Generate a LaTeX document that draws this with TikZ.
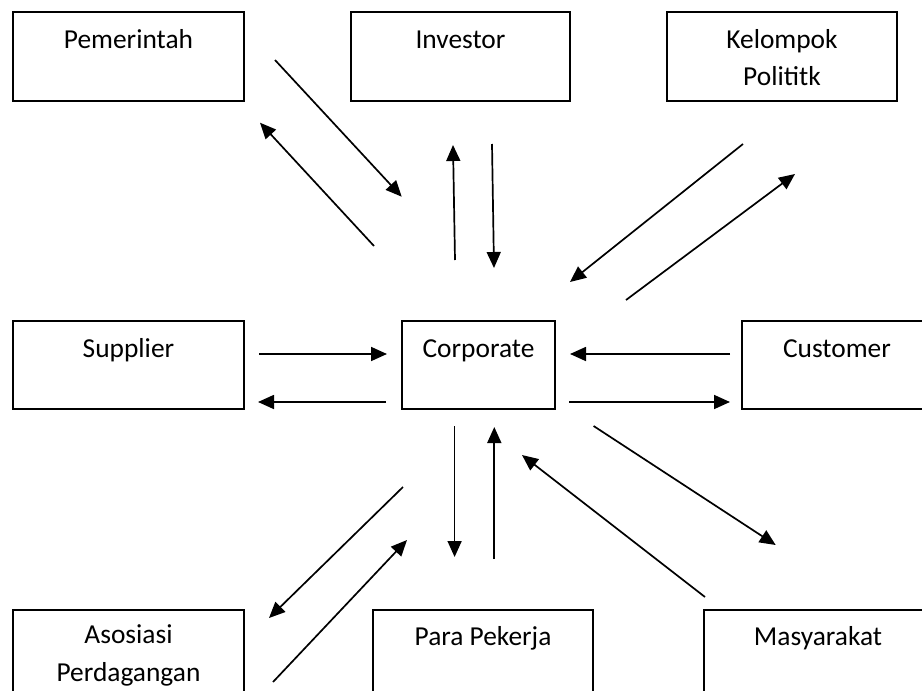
\documentclass[tikz,border=0pt]{standalone}
\usepackage{fontspec}
\setmainfont{Carlito}
\usetikzlibrary{arrows.meta}

\begin{document}
\begin{tikzpicture}[x=0.5pt,y=-0.5pt]


\tikzset{kotak/.style={draw,line width=1pt,inner sep=0pt},}
\tikzset{teks/.style={anchor=base,inner sep=0pt,align=center,font=\fontsize{13.7}{18.7}\selectfont},}
\tikzset{panah/.style={-{Triangle[length=8pt,width=7pt]},line width=0.85pt},}

\useasboundingbox (0,0) rectangle (922,691);

	\draw
		(128.5,56.5) node[kotak,minimum width=115.5pt,minimum height=44.5pt] (pem) {}
		(460.5,56.5) node[kotak,minimum width=109.5pt,minimum height=44.5pt] (inv) {}
		(782,56.5) node[kotak,minimum width=115pt,minimum height=44.5pt] (kel) {}
		
		(128.5,365) node[kotak,minimum width=115.5pt,minimum height=44pt] (sup) {}
		(478.5,365) node[kotak,minimum width=76.5pt,minimum height=44pt] (cor) {}
		(837,365) node[kotak,minimum width=95pt,minimum height=44pt] (cus) {}
		
		(128.5,665) node[kotak,minimum width=115.5pt,minimum height=55pt] (aso) {}
		(483,665) node[kotak,minimum width=110pt,minimum height=55pt] (par) {}
		(818,665) node[kotak,minimum width=114pt,minimum height=55pt] (mas) {}
;

\node[teks] (pemt) at ([yshift=-18.6pt]pem.north) {Pemerintah};
\node[teks] (invt) at ([yshift=-18.6pt]inv.north) {Investor};
\node[teks] (kelt) at ([yshift=-37.3pt]kel.north) {Kelompok\\Polititk};
\node[teks] (supt) at ([yshift=-18.6pt]sup.north) {Supplier};
\node[teks] (cort) at ([yshift=-18.6pt]cor.north) {Corporate};
\node[teks] (cust) at ([yshift=-18.6pt]cus.north) {Customer};
\node[teks] (asot) at ([yshift=-36pt]aso.north) {Asosiasi\\Perdagangan};
\node[teks] (part) at ([yshift=-18.4pt]par.north) {Para Pekerja};
\node[teks] (mast) at ([yshift=-18.4pt]mas.north) {Masyarakat};

% ujung panah
\coordinate (pem-cor-a) at (275,60);    \coordinate (pem-cor-b) at (401.7,196.7);
\coordinate (cor-pem-a) at (374,246);   \coordinate (cor-pem-b) at (260,122.7);
\coordinate (cor-inv-a) at (455,260);   \coordinate (cor-inv-b) at (453,145);
\coordinate (inv-cor-a) at (492,144);   \coordinate (inv-cor-b) at (494,268);
\coordinate (kel-cor-a) at (743,144);   \coordinate (kel-cor-b) at (570,282);
\coordinate (cor-kel-a) at (626,300);   \coordinate (cor-kel-b) at (795,174);
\coordinate (sup-cor-a) at (259,354);   \coordinate (sup-cor-b) at (387,354);
\coordinate (cor-sup-a) at (386,402);   \coordinate (cor-sup-b) at (258,402);
\coordinate (cus-cor-a) at (730,354);   \coordinate (cus-cor-b) at (570,354);
\coordinate (cor-cus-a) at (569,402);   \coordinate (cor-cus-b) at (730,402);
\coordinate (cor-par-a) at (454.6,426); \coordinate (cor-par-b) at (454.6,557);
\coordinate (par-cor-a) at (494.3,559); \coordinate (par-cor-b) at (494.3,427);
\coordinate (cor-mas-a) at (593.6,426); \coordinate (cor-mas-b) at (775.7,545);
\coordinate (mas-cor-a) at (705,597);   \coordinate (mas-cor-b) at (522,455);
\coordinate (cor-aso-a) at (403,487);   \coordinate (cor-aso-b) at (269,618);
\coordinate (aso-cor-a) at (273,682);   \coordinate (aso-cor-b) at (407,540);

\draw[panah] (pem-cor-a) -- (pem-cor-b);
\draw[panah] (cor-pem-a) -- (cor-pem-b);
\draw[panah] (cor-inv-a) -- (cor-inv-b);
\draw[panah] (inv-cor-a) -- (inv-cor-b);
\draw[panah] (kel-cor-a) -- (kel-cor-b);
\draw[panah] (cor-kel-a) -- (cor-kel-b);
\draw[panah] (sup-cor-a) -- (sup-cor-b);
\draw[panah] (cor-sup-a) -- (cor-sup-b);
\draw[panah] (cus-cor-a) -- (cus-cor-b);
\draw[panah] (cor-cus-a) -- (cor-cus-b);
\draw[panah] (cor-par-a) -- (cor-par-b);
\draw[panah] (par-cor-a) -- (par-cor-b);
\draw[panah] (cor-mas-a) -- (cor-mas-b);
\draw[panah] (mas-cor-a) -- (mas-cor-b);
\draw[panah] (cor-aso-a) -- (cor-aso-b);
\draw[panah] (aso-cor-a) -- (aso-cor-b);


\end{tikzpicture}
\end{document}
